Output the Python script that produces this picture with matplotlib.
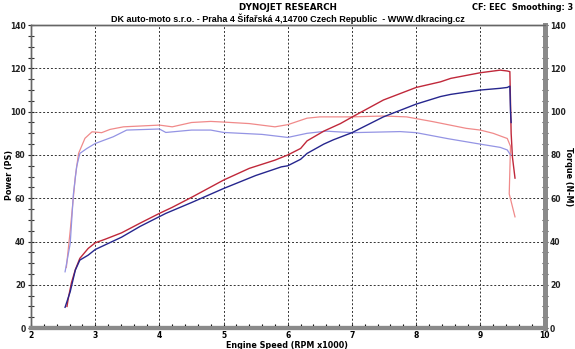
import matplotlib
matplotlib.use("Agg")
import matplotlib.pyplot as plt
import matplotlib.ticker as tck

# power (PS) - two runs
pw_red_x = [2.56, 2.58, 2.63, 2.69, 2.76, 2.89, 3.0, 3.15, 3.41, 3.7, 4.0, 4.2, 4.5, 5.0, 5.4, 5.8, 6.0,
            6.2, 6.3, 6.56, 6.82, 7.0, 7.49, 8.0, 8.38, 8.54, 9.0, 9.31, 9.42, 9.46, 9.48, 9.50, 9.54]
pw_red_y = [10, 13.7, 21, 27, 32.2, 36.8, 39.4, 41, 44, 48.5, 53, 55.8, 60.4, 68.4, 73.8, 77.6, 80,
            83, 86.5, 91, 94.5, 97.5, 105.4, 111.2, 113.8, 115.4, 118, 119.2, 118.8, 118.5, 90, 79, 69.3]
pw_blue_x = [2.53, 2.61, 2.69, 2.76, 2.89, 3.0, 3.41, 3.7, 4.0, 4.1, 4.5, 5.0, 5.5, 5.9, 6.0, 6.2, 6.3,
             6.56, 6.71, 7.0, 7.49, 8.0, 8.38, 8.54, 9.0, 9.31, 9.42, 9.46, 9.47, 9.48]
pw_blue_y = [9.6, 16.8, 26.8, 31.4, 33.7, 36.3, 42, 47, 51.5, 53, 58, 64.5, 70.5, 74.5, 75, 78, 80.7,
             85, 87, 90.3, 97.6, 103.5, 107, 108, 110, 110.8, 111.2, 111.8, 100, 95]

# torque (N-M)
tq_red_x = [2.55, 2.61, 2.69, 2.74, 2.84, 2.95, 3.10, 3.23, 3.44, 4.0, 4.2, 4.5, 4.8, 5.0, 5.4, 5.8, 6.0,
            6.3, 6.5, 7.0, 7.49, 7.85, 8.26, 8.78, 9.0, 9.2, 9.42, 9.47, 9.45, 9.54]
tq_red_y = [28, 45, 70, 80.7, 87.7, 90.7, 90.3, 91.8, 93, 93.8, 93, 95, 95.5, 95.2, 94.5, 93, 94,
            97, 97.6, 97.6, 98, 97.6, 95.4, 92.3, 91.5, 90, 87.6, 84, 62, 51.4]
tq_blue_x = [2.53, 2.61, 2.66, 2.71, 2.76, 2.87, 3.0, 3.28, 3.49, 4.0, 4.1, 4.5, 4.8, 5.0, 5.6, 6.0,
             6.3, 6.6, 7.0, 7.75, 8.0, 8.5, 9.0, 9.31, 9.42, 9.47]
tq_blue_y = [26, 39, 62, 74.5, 80.7, 83, 85.3, 88.4, 91.5, 92, 90.4, 91.5, 91.5, 90.4, 89.5, 88.1,
             90, 91, 90.3, 90.8, 90.3, 87.5, 85, 83.5, 82.3, 80]

xticks = [2, 3, 4, 5, 6, 7, 8, 9, 10]
yticks = [0, 20, 40, 60, 80, 100, 120, 140]

plt.rcParams['font.family'] = 'DejaVu Sans'
plt.rcParams['font.weight'] = 'bold'

fig = plt.figure(figsize=(5.75, 3.49), dpi=100)
ax = fig.add_axes([0.054, 0.060, 0.893, 0.868])
ax2 = ax.twinx()

ax.plot(tq_red_x, tq_red_y, color='#f08a8a', lw=0.9)
ax.plot(tq_blue_x, tq_blue_y, color='#9494e4', lw=0.9)
ax.plot(pw_red_x, pw_red_y, color='#c0283a', lw=1.0)
ax.plot(pw_blue_x, pw_blue_y, color='#26268e', lw=1.0)

for a in (ax, ax2):
    a.set_xlim(2, 10)
    a.set_ylim(0, 140)
    a.set_yticks(yticks)
    a.yaxis.set_minor_locator(tck.MultipleLocator(5))
    a.tick_params(axis='y', which='major', direction='inout', length=5, width=0.8,
                  labelsize=5.5, pad=1.5, colors='#222222')
    a.tick_params(axis='y', which='minor', direction='inout', length=5, width=0.8, colors='#333333')
ax.set_xticks(xticks)
ax.xaxis.set_minor_locator(tck.MultipleLocator(0.2))
ax.tick_params(axis='x', which='major', direction='in', length=3, width=0.8, labelsize=5.5, pad=2)
ax.tick_params(axis='x', which='minor', direction='in', length=3, width=0.8)

ax.grid(True, which='major', color='#333333', linestyle=(0, (2, 2)), linewidth=0.7)

for a in (ax, ax2):
    a.spines['left'].set_color('#666666')
    a.spines['left'].set_linewidth(1.0)
    a.spines['top'].set_color('#666666')
    a.spines['top'].set_linewidth(1.0)
    a.spines['right'].set_color('#8a8a8a')
    a.spines['right'].set_linewidth(3.5)
    a.spines['bottom'].set_color('#8a8a8a')
    a.spines['bottom'].set_linewidth(3.0)

# axis titles placed by hand, the reference keeps them tight to the edges
fig.text(0.5, 0.011, 'Engine Speed (RPM x1000)', ha='center', va='center', fontsize=5.8, fontweight='bold')
fig.text(0.016, 0.50, 'Power (PS)', ha='center', va='center', rotation=90, fontsize=5.8, fontweight='bold')
fig.text(0.988, 0.495, 'Torque (N-M)', ha='center', va='center', rotation=270, fontsize=5.8, fontweight='bold')

fig.text(0.5, 0.978, 'DYNOJET RESEARCH', ha='center', va='center', fontsize=6.3, fontweight='bold')
fig.text(0.5, 0.947, 'DK auto-moto s.r.o. - Praha 4 Šifařská 4,14700 Czech Republic  - WWW.dkracing.cz',
         ha='center', va='center', fontsize=6.5, fontweight='bold', family='Liberation Sans')
fig.text(0.996, 0.978, 'CF: EEC  Smoothing: 3', ha='right', va='center', fontsize=5.9, fontweight='bold')

fig.savefig('out.png', dpi=100)
